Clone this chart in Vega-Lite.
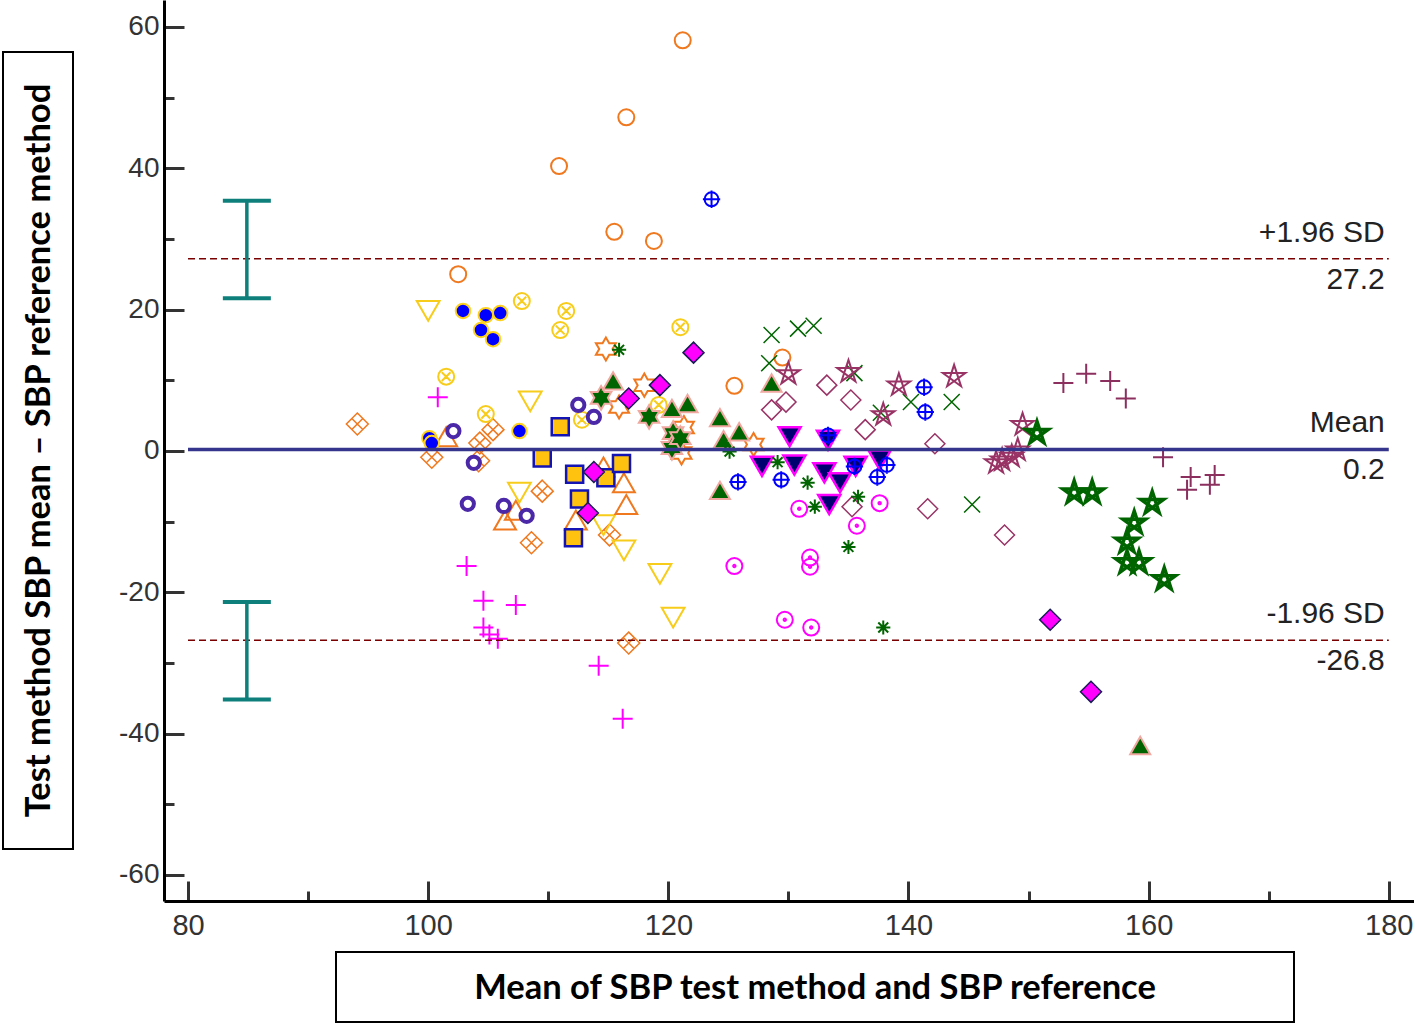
{
  "$schema": "https://vega.github.io/schema/vega-lite/v6.json",
  "padding": {"left": 2, "top": 0, "right": 0, "bottom": 0},
  "background": "white",
  "bounds": "flush",
  "spacing": 952,
  "datasets": {
    "pts": [
      {"s":"oc","x":121.2,"y":58.1},{"s":"oc","x":116.5,"y":47.2},{"s":"oc","x":110.9,"y":40.3},{"s":"oc","x":115.5,"y":31.0},{"s":"oc","x":118.8,"y":29.7},{"s":"oc","x":102.5,"y":25.0},{"s":"oc","x":129.5,"y":13.2},{"s":"oc","x":125.5,"y":9.2},
      {"s":"bd","x":102.9,"y":19.8},{"s":"bd","x":104.8,"y":19.2},{"s":"bd","x":106.0,"y":19.5},{"s":"bd","x":104.4,"y":17.1},{"s":"bd","x":105.4,"y":15.8},{"s":"bd","x":107.6,"y":2.8},{"s":"bd","x":100.1,"y":1.8},{"s":"bd","x":100.3,"y":1.1},
      {"s":"pr","x":102.1,"y":2.8},{"s":"pr","x":112.5,"y":6.5},{"s":"pr","x":113.8,"y":4.8},{"s":"pr","x":103.8,"y":-1.7},{"s":"pr","x":103.3,"y":-7.5},{"s":"pr","x":106.3,"y":-7.8},{"s":"pr","x":108.2,"y":-9.2},
      {"s":"od","x":94.1,"y":3.8},{"s":"od","x":100.3,"y":-0.9},{"s":"od","x":105.4,"y":3.0},{"s":"od","x":104.3,"y":1.1},{"s":"od","x":104.2,"y":-1.4},{"s":"od","x":109.5,"y":-5.7},{"s":"od","x":108.6,"y":-13.0},{"s":"od","x":115.1,"y":-11.9},{"s":"od","x":116.7,"y":-27.2},
      {"s":"yt","x":100.0,"y":19.8},{"s":"yt","x":108.5,"y":7.0},{"s":"yt","x":107.6,"y":-5.9},{"s":"yt","x":114.6,"y":-10.5},{"s":"yt","x":116.3,"y":-14.1},{"s":"yt","x":119.3,"y":-17.4},{"s":"yt","x":120.4,"y":-23.6},
      {"s":"yx","x":107.8,"y":21.2},{"s":"yx","x":111.5,"y":19.8},{"s":"yx","x":111.0,"y":17.1},{"s":"yx","x":101.5,"y":10.5},{"s":"yx","x":104.8,"y":5.2},{"s":"yx","x":121.0,"y":17.5},{"s":"yx","x":119.2,"y":6.5},{"s":"yx","x":112.8,"y":4.4},
      {"s":"mp","x":100.8,"y":7.6},{"s":"mp","x":103.2,"y":-16.3},{"s":"mp","x":104.6,"y":-21.2},{"s":"mp","x":107.3,"y":-21.8},{"s":"mp","x":104.6,"y":-25.0},{"s":"mp","x":105.1,"y":-26.0},{"s":"mp","x":105.8,"y":-26.6},{"s":"mp","x":114.2,"y":-30.4},{"s":"mp","x":116.2,"y":-37.9},
      {"s":"ys","x":111.0,"y":3.4},{"s":"ys","x":109.5,"y":-1.0},{"s":"ys","x":112.2,"y":-3.3},{"s":"ys","x":114.8,"y":-3.8},{"s":"ys","x":116.1,"y":-1.8},{"s":"ys","x":112.6,"y":-6.8},{"s":"ys","x":112.1,"y":-12.3},
      {"s":"md","x":122.1,"y":13.9},{"s":"md","x":151.8,"y":-23.9},{"s":"md","x":155.2,"y":-34.1},{"s":"md","x":113.3,"y":-8.8},{"s":"md","x":113.8,"y":-3.0},{"s":"md","x":116.7,"y":7.4},{"s":"md","x":119.3,"y":9.3},
      {"s":"gt","x":115.4,"y":9.9},{"s":"gt","x":121.6,"y":6.7},{"s":"gt","x":120.3,"y":6.0},{"s":"gt","x":124.3,"y":4.7},{"s":"gt","x":124.6,"y":1.6},{"s":"gt","x":125.9,"y":2.7},{"s":"gt","x":124.3,"y":-5.6},{"s":"gt","x":128.6,"y":9.6},{"s":"gt","x":159.3,"y":-41.7},
      {"s":"gh","x":114.4,"y":7.5},{"s":"gh","x":118.4,"y":4.8},{"s":"gh","x":120.4,"y":2.5},{"s":"gh","x":120.3,"y":0.4},{"s":"gh","x":121.0,"y":1.8},
      {"s":"oh","x":114.8,"y":14.4},{"s":"oh","x":118.0,"y":9.3},{"s":"oh","x":115.9,"y":6.2},{"s":"oh","x":121.3,"y":3.3},{"s":"oh","x":121.1,"y":-0.3},{"s":"oh","x":127.1,"y":0.9},
      {"s":"ot","x":101.5,"y":2.0},{"s":"ot","x":106.4,"y":-9.8},{"s":"ot","x":107.3,"y":-8.4},{"s":"ot","x":114.6,"y":-2.3},{"s":"ot","x":116.3,"y":-4.5},{"s":"ot","x":116.5,"y":-7.6},{"s":"ot","x":112.3,"y":-9.8},
      {"s":"ga","x":115.9,"y":14.3},{"s":"ga","x":125.1,"y":-0.1},{"s":"ga","x":129.1,"y":-1.6},{"s":"ga","x":131.6,"y":-4.5},{"s":"ga","x":132.2,"y":-7.9},{"s":"ga","x":135.8,"y":-6.5},{"s":"ga","x":135.0,"y":-13.6},{"s":"ga","x":137.9,"y":-25.0},
      {"s":"gx","x":128.6,"y":16.4},{"s":"gx","x":130.8,"y":17.3},{"s":"gx","x":132.1,"y":17.7},{"s":"gx","x":128.4,"y":12.4},{"s":"gx","x":135.5,"y":11.0},{"s":"gx","x":137.7,"y":5.4},{"s":"gx","x":140.2,"y":6.9},{"s":"gx","x":143.6,"y":6.9},{"s":"gx","x":145.3,"y":-7.6},
      {"s":"ms","x":130.0,"y":10.9},{"s":"ms","x":135.0,"y":11.2},{"s":"ms","x":139.2,"y":9.3},{"s":"ms","x":137.9,"y":5.1},{"s":"ms","x":143.8,"y":10.5},{"s":"ms","x":149.5,"y":3.7},{"s":"ms","x":147.8,"y":-1.3},{"s":"ms","x":148.6,"y":-0.8},{"s":"ms","x":149.1,"y":0.1},{"s":"ms","x":147.3,"y":-1.7},
      {"s":"mdi","x":133.2,"y":9.3},{"s":"mdi","x":135.2,"y":7.2},{"s":"mdi","x":128.6,"y":5.8},{"s":"mdi","x":129.8,"y":6.9},{"s":"mdi","x":136.4,"y":3.0},{"s":"mdi","x":142.2,"y":1.0},{"s":"mdi","x":135.3,"y":-7.9},{"s":"mdi","x":141.6,"y":-8.2},{"s":"mdi","x":148.0,"y":-11.9},
      {"s":"bp","x":123.6,"y":35.6},{"s":"bp","x":141.3,"y":9.0},{"s":"bp","x":141.4,"y":5.5},{"s":"bp","x":133.3,"y":2.2},{"s":"bp","x":125.8,"y":-4.4},{"s":"bp","x":129.4,"y":-4.1},{"s":"bp","x":137.4,"y":-3.7},{"s":"bp","x":138.2,"y":-2.0},{"s":"bp","x":135.5,"y":-2.2},
      {"s":"nt","x":130.1,"y":2.0},{"s":"nt","x":127.8,"y":-2.2},{"s":"nt","x":130.5,"y":-2.0},{"s":"nt","x":133.0,"y":-3.1},{"s":"nt","x":134.3,"y":-4.5},{"s":"nt","x":135.6,"y":-2.2},{"s":"nt","x":137.6,"y":-1.3},{"s":"nt","x":133.4,"y":-7.6},{"s":"nt","x":133.3,"y":1.5},
      {"s":"mo","x":130.9,"y":-8.2},{"s":"mo","x":137.6,"y":-7.4},{"s":"mo","x":135.7,"y":-10.6},{"s":"mo","x":131.8,"y":-15.1},{"s":"mo","x":131.8,"y":-16.4},{"s":"mo","x":129.7,"y":-23.9},{"s":"mo","x":131.9,"y":-25.0},{"s":"mo","x":125.5,"y":-16.3},
      {"s":"mpl","x":152.9,"y":9.6},{"s":"mpl","x":154.8,"y":10.9},{"s":"mpl","x":156.8,"y":9.9},{"s":"mpl","x":158.1,"y":7.4},{"s":"mpl","x":161.2,"y":-0.9},{"s":"mpl","x":163.5,"y":-3.7},{"s":"mpl","x":165.5,"y":-3.4},{"s":"mpl","x":163.2,"y":-5.5},{"s":"mpl","x":165.1,"y":-4.8},
      {"s":"gs","x":153.8,"y":-5.9},{"s":"gs","x":155.3,"y":-5.9},{"s":"gs","x":160.3,"y":-7.4},{"s":"gs","x":158.8,"y":-10.2},{"s":"gs","x":158.2,"y":-12.9},{"s":"gs","x":158.2,"y":-15.8},{"s":"gs","x":159.2,"y":-15.8},{"s":"gs","x":161.3,"y":-18.2},{"s":"gs","x":150.7,"y":2.5}
    ]
  },
  "vconcat": [
    {
      "bounds": "flush",
      "center": true,
      "spacing": 91,
      "hconcat": [
        {
          "width": 70, "height": 797,
          "view": {"stroke": "black", "strokeWidth": 2},
          "data": {"values": [{"t": "Test method SBP mean – SBP reference method"}]},
          "mark": {"type": "text", "angle": 270, "font": "Lato", "fontWeight": "bold", "fontSize": 34.5, "color": "black", "align": "center", "baseline": "middle", "dy": 2},
          "encoding": {"text": {"field": "t"}}
        },
        {
          "width": 1250, "height": 901,
          "view": {"stroke": null},
          "layer": [
            {
              "data": {"name": "pts"},
              "encoding": {
                "x": {"field": "x", "type": "quantitative",
                  "scale": {"domain": [78, 182.1], "nice": false, "zero": false},
                  "axis": {"values": [80,90,100,110,120,130,140,150,160,170,180], "labelExpr": "datum.value % 20 === 0 ? '' + datum.value : ''",
                    "title": null, "grid": false, "domainColor": "black", "domainWidth": 3, "tickColor": "#333", "tickWidth": 3,
                    "tickSize": {"condition": {"test": "datum.value % 20 === 0", "value": -20}, "value": -10},
                    "labelFont": "Liberation Sans", "labelFontSize": 29, "labelColor": "#333", "labelPadding": 30, "labelFlush": false, "labelOverlap": false}},
                "y": {"field": "y", "type": "quantitative",
                  "scale": {"domain": [-63.7, 63.8], "nice": false, "zero": false},
                  "axis": {"values": [-60,-50,-40,-30,-20,-10,0,10,20,30,40,50,60], "labelExpr": "datum.value % 20 === 0 ? '' + datum.value : ''",
                    "title": null, "grid": false, "domainColor": "black", "domainWidth": 3, "tickColor": "#333", "tickWidth": 3,
                    "tickSize": {"condition": {"test": "datum.value % 20 === 0", "value": -20}, "value": -10},
                    "labelFont": "Liberation Sans", "labelFontSize": 28, "labelColor": "#333", "labelPadding": 25, "labelFlush": false, "labelOverlap": false}}
              },
              "layer": [
                {"transform": [{"filter": "datum.s === 'oc'"}], "mark": {"type": "point", "shape": "circle", "size": 256, "filled": false, "stroke": "#f0781e", "strokeWidth": 2, "opacity": 1}},
                {"transform": [{"filter": "datum.s === 'od'"}], "mark": {"type": "point", "shape": "M0,-1L1,0L0,1L-1,0ZM-0.5,-0.5L0.5,0.5M0.5,-0.5L-0.5,0.5", "size": 480, "filled": false, "stroke": "#f0781e", "strokeWidth": 1.5, "opacity": 1}},
                {"transform": [{"filter": "datum.s === 'yt'"}], "mark": {"type": "point", "shape": "triangle-down", "size": 520, "filled": false, "stroke": "#f8cc1a", "strokeWidth": 2, "opacity": 1}},
                {"transform": [{"filter": "datum.s === 'yx'"}], "mark": {"type": "point", "shape": "M1,0A1,1,0,1,1,-1,0A1,1,0,1,1,1,0ZM-0.55,-0.55L0.55,0.55M0.55,-0.55L-0.55,0.55", "size": 256, "filled": false, "stroke": "#f8cc1a", "strokeWidth": 2, "opacity": 1}},
                {"transform": [{"filter": "datum.s === 'ot'"}], "mark": {"type": "point", "shape": "triangle-up", "size": 480, "filled": false, "stroke": "#f0781e", "strokeWidth": 2, "opacity": 1}},
                {"transform": [{"filter": "datum.s === 'oh'"}], "mark": {"type": "point", "shape": "M0,-1L0.289,-0.5L0.866,-0.5L0.577,0L0.866,0.5L0.289,0.5L0,1L-0.289,0.5L-0.866,0.5L-0.577,0L-0.866,-0.5L-0.289,-0.5Z", "size": 530, "filled": false, "stroke": "#f0781e", "strokeWidth": 2, "opacity": 1}},
                {"transform": [{"filter": "datum.s === 'gh'"}], "mark": {"type": "point", "shape": "M0,-1L0.289,-0.5L0.866,-0.5L0.577,0L0.866,0.5L0.289,0.5L0,1L-0.289,0.5L-0.866,0.5L-0.577,0L-0.866,-0.5L-0.289,-0.5Z", "size": 560, "filled": true, "fill": "#006400", "stroke": "#f0a8a0", "strokeWidth": 2, "opacity": 1}},
                {"transform": [{"filter": "datum.s === 'gt'"}], "mark": {"type": "point", "shape": "triangle-up", "size": 400, "filled": true, "fill": "#006400", "stroke": "#f0a8a0", "strokeWidth": 2, "opacity": 1}},
                {"transform": [{"filter": "datum.s === 'ys'"}], "mark": {"type": "point", "shape": "square", "size": 290, "filled": true, "fill": "#ffc20e", "stroke": "#1414b4", "strokeWidth": 2.5, "opacity": 1}},
                {"transform": [{"filter": "datum.s === 'md'"}], "mark": {"type": "point", "shape": "diamond", "size": 440, "filled": true, "fill": "#ff00ff", "stroke": "#1a1a5a", "strokeWidth": 1.5, "opacity": 1}},
                {"transform": [{"filter": "datum.s === 'bd'"}], "mark": {"type": "point", "shape": "circle", "size": 210, "filled": true, "fill": "#0000ff", "stroke": "#ffd21e", "strokeWidth": 2, "opacity": 1}},
                {"transform": [{"filter": "datum.s === 'pr'"}], "mark": {"type": "point", "shape": "circle", "size": 150, "filled": true, "fill": "white", "stroke": "#4a28a8", "strokeWidth": 4, "opacity": 1}},
                {"transform": [{"filter": "datum.s === 'mp'"}], "mark": {"type": "point", "shape": "M-1,0L1,0M0,-1L0,1", "size": 400, "filled": false, "stroke": "#ff00ff", "strokeWidth": 2, "opacity": 1}},
                {"transform": [{"filter": "datum.s === 'gx'"}], "mark": {"type": "point", "shape": "M-1,-1L1,1M-1,1L1,-1", "size": 256, "filled": false, "stroke": "#006400", "strokeWidth": 1.5, "opacity": 1}},
                {"transform": [{"filter": "datum.s === 'ms'"}], "mark": {"type": "point", "shape": "M0,-1L0.588,0.809L-0.951,-0.309L0.951,-0.309L-0.588,0.809Z", "size": 560, "filled": false, "stroke": "#993366", "strokeWidth": 2, "opacity": 1}},
                {"transform": [{"filter": "datum.s === 'mdi'"}], "mark": {"type": "point", "shape": "diamond", "size": 400, "filled": false, "stroke": "#993366", "strokeWidth": 1.5, "opacity": 1}},
                {"transform": [{"filter": "datum.s === 'nt'"}], "mark": {"type": "point", "shape": "triangle-down", "size": 484, "filled": true, "fill": "#000070", "stroke": "#ff00ff", "strokeWidth": 2.5, "opacity": 1}},
                {"transform": [{"filter": "datum.s === 'bp'"}], "mark": {"type": "point", "shape": "M0.8,0A0.8,0.8,0,1,1,-0.8,0A0.8,0.8,0,1,1,0.8,0ZM-1,0L1,0M0,-1L0,1", "size": 300, "filled": false, "stroke": "#0000ff", "strokeWidth": 2, "opacity": 1}},
                {"transform": [{"filter": "datum.s === 'ga'"}], "mark": {"type": "point", "shape": "M-1,0L1,0M0,-1L0,1M-0.7,-0.7L0.7,0.7M-0.7,0.7L0.7,-0.7", "size": 200, "filled": false, "stroke": "#006400", "strokeWidth": 2, "opacity": 1}},
                {"transform": [{"filter": "datum.s === 'mo'"}], "mark": {"type": "point", "shape": "M1,0A1,1,0,1,1,-1,0A1,1,0,1,1,1,0ZM0.15,0A0.15,0.15,0,1,1,-0.15,0A0.15,0.15,0,1,1,0.15,0Z", "size": 256, "filled": false, "stroke": "#ff00ff", "strokeWidth": 2, "opacity": 1}},
                {"transform": [{"filter": "datum.s === 'mpl'"}], "mark": {"type": "point", "shape": "M-1,0L1,0M0,-1L0,1", "size": 400, "filled": false, "stroke": "#8b2f5f", "strokeWidth": 2, "opacity": 1}},
                {"transform": [{"filter": "datum.s === 'gs'"}], "mark": {"type": "point", "shape": "M0,-1L0.588,0.809L-0.951,-0.309L0.951,-0.309L-0.588,0.809Z", "size": 560, "filled": false, "stroke": "#006400", "strokeWidth": 3.5, "opacity": 1}}
              ]
            },
            {
              "data": {"values": [{"y": 27.2}, {"y": -26.8}]},
              "mark": {"type": "rule", "color": "#7a0000", "strokeWidth": 1.5, "strokeDash": [7, 4]},
              "encoding": {"x": {"datum": 80}, "x2": {"datum": 180}, "y": {"field": "y", "type": "quantitative"}}
            },
            {
              "data": {"values": [{"y": 0.2}]},
              "mark": {"type": "rule", "color": "#35358e", "strokeWidth": 3.5},
              "encoding": {"x": {"datum": 80}, "x2": {"datum": 180}, "y": {"field": "y", "type": "quantitative"}}
            },
            {
              "data": {"values": [{"x": 84.9, "lo": 21.6, "hi": 35.4}, {"x": 84.9, "lo": -35.2, "hi": -21.4}]},
              "layer": [
                {"mark": {"type": "rule", "color": "#0f7f7c", "strokeWidth": 3.5},
                 "encoding": {"x": {"field": "x", "type": "quantitative"}, "y": {"field": "lo", "type": "quantitative"}, "y2": {"field": "hi"}}},
                {"mark": {"type": "tick", "orient": "horizontal", "color": "#0f7f7c", "size": 48, "thickness": 4, "opacity": 1},
                 "encoding": {"x": {"field": "x", "type": "quantitative"}, "y": {"field": "lo", "type": "quantitative"}}},
                {"mark": {"type": "tick", "orient": "horizontal", "color": "#0f7f7c", "size": 48, "thickness": 4, "opacity": 1},
                 "encoding": {"x": {"field": "x", "type": "quantitative"}, "y": {"field": "hi", "type": "quantitative"}}}
              ]
            },
            {
              "data": {"values": [{"y": 27.2, "name": "+1.96 SD", "val": "27.2"}, {"y": 0.2, "name": "Mean", "val": "0.2"}, {"y": -26.8, "name": "-1.96 SD", "val": "-26.8"}]},
              "layer": [
                {"mark": {"type": "text", "align": "right", "baseline": "alphabetic", "dx": -4, "dy": -17, "font": "Liberation Sans", "fontSize": 30, "color": "#222"},
                 "encoding": {"x": {"datum": 180}, "y": {"field": "y", "type": "quantitative"}, "text": {"field": "name"}}},
                {"mark": {"type": "text", "align": "right", "baseline": "alphabetic", "dx": -4, "dy": 30, "font": "Liberation Sans", "fontSize": 30, "color": "#222"},
                 "encoding": {"x": {"datum": 180}, "y": {"field": "y", "type": "quantitative"}, "text": {"field": "val"}}}
              ]
            }
          ]
        }
      ]
    },
    {
      "bounds": "flush",
      "spacing": 91,
      "hconcat": [
        {
          "width": 242, "height": 70,
          "view": {"stroke": null},
          "data": {"values": [{"t": ""}]},
          "mark": {"type": "text"},
          "encoding": {"text": {"field": "t"}}
        },
        {
          "width": 958, "height": 70,
          "view": {"stroke": "black", "strokeWidth": 2},
          "data": {"values": [{"t": "Mean of SBP test method and SBP reference"}]},
          "mark": {"type": "text", "font": "Lato", "fontWeight": "bold", "fontSize": 34.5, "color": "black", "align": "center", "baseline": "middle", "dy": 2},
          "encoding": {"text": {"field": "t"}}
        }
      ]
    }
  ]
}
